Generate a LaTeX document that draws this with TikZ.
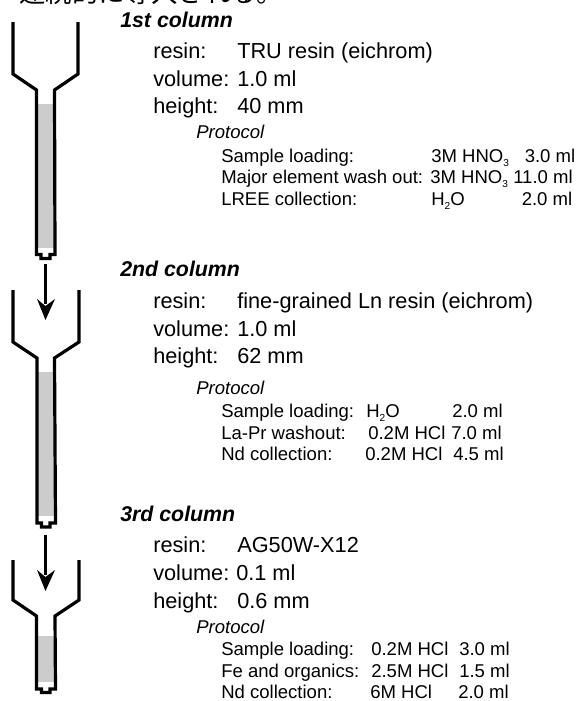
\documentclass[tikz,border=0pt]{standalone}
\usepackage{fontspec}
\setmainfont{Liberation Sans}
\newfontfamily\jpfont{Noto Sans CJK JP}
\def\walledge{2.4}
\definecolor{wallblack}{rgb}{0,0,0}
\definecolor{resingrey}{rgb}{0.8,0.8,0.8}
\newcommand{\lowsub}[1]{\raisebox{-3pt}{\fontsize{7.6}{8}\selectfont #1}}
\tikzset{
  heading/.style={anchor=base west,inner sep=0pt,font=\fontsize{16}{18}\selectfont\bfseries\itshape},
  info/.style={anchor=base west,inner sep=0pt,font=\fontsize{16.3}{18}\selectfont},
  protohead/.style={anchor=base west,inner sep=0pt,font=\fontsize{13.9}{15}\selectfont\itshape},
  proto/.style={anchor=base west,inner sep=0pt,font=\fontsize{13.9}{15}\selectfont},
  wall/.style={line width=\walledge,color=wallblack,miter limit=4},
  flow/.style={line width=\walledge,color=wallblack}
}
\begin{document}
\begin{tikzpicture}[x = 0.75pt, y = -0.75pt, scale = 1]
            \useasboundingbox (0,0) rectangle (577,701);
            \clip (0,0) rectangle (577,701);

            % caption cut off by the page edge
            \node[anchor=base west,inner sep=0pt,font=\fontsize{19.8}{20}\selectfont\jpfont] (caption) at (19,2){連続的に導入される。};

            % first column
            \fill [color=resingrey] (37,104) rectangle (54,248);
            \draw [wall] (13,22) -- (13,74) -- (36.5,90) -- (36.5,254.5) -- (41,254.5) -- (41,258.5) -- (50,258.5) -- (50,254.5) -- (55,254.5) -- (54.5,90) -- (78,74) -- (78,22);

            \coordinate (outa) at (45.5,264);
            \coordinate (ina) at (45.5,320);
            \draw [flow] (outa) -- (45.5,304);
            \fill [color=wallblack] (ina) -- (37,299) -- (45.5,306) -- (55,299) -- cycle;

            % second column
            \fill [color=resingrey] (38,372) rectangle (54,516);
            \draw [wall] (13,290) -- (13,342) -- (37,358) -- (37,523) -- (41.5,523) -- (41.5,527) -- (50,527) -- (50,523) -- (55.5,523) -- (54.5,358) -- (79,342) -- (79,290);

            \coordinate (outb) at (45.5,535);
            \coordinate (inb) at (45.5,591);
            \draw [flow] (outb) -- (45.5,575);
            \fill [color=wallblack] (inb) -- (37,570) -- (45.5,577) -- (55,570) -- cycle;

            % third column
            \fill [color=resingrey] (38,636) rectangle (54,682);
            \draw [wall] (13,560) -- (13,600) -- (36.5,616) -- (36.5,689) -- (41.5,689) -- (41.5,692.5) -- (50,692.5) -- (50,689) -- (55.5,689) -- (55,616) -- (79,600) -- (79,560);

            % labels of the first column
            \node[heading] (heada) at (120,27){1st column};
            \node[info] (resina) at (153,58){resin:};
            \node[info] (resinvala) at (237,58){TRU resin (eichrom)};
            \node[info] (vola) at (153,86){volume:};
            \node[info] (volvala) at (237,86){1.0 ml};
            \node[info] (heighta) at (153,113){height:};
            \node[info] (heightvala) at (237,113){40 mm};
            \node[protohead] (protoa) at (196,138){Protocol};
            \node[proto] (a1) at (221,162){Sample loading:};
            \node[proto] (a2) at (431,162){3M HNO\lowsub{3}};
            \node[proto] (a3) at (524.5,162){3.0 ml};
            \node[proto] (a4) at (221,183){Major element wash out:};
            \node[proto] (a5) at (430,183){3M HNO\lowsub{3}};
            \node[proto] (a6) at (513,183){11.0 ml};
            \node[proto] (a7) at (221,205){LREE collection:};
            \node[proto] (a8) at (431,205){H\lowsub{2}O};
            \node[proto] (a9) at (521.5,205){2.0 ml};

            % labels of the second column
            \node[heading] (headb) at (120,276){2nd column};
            \node[info] (resinb) at (153,308){resin:};
            \node[info] (resinvalb) at (237,308){fine-grained Ln resin (eichrom)};
            \node[info] (volb) at (153,336){volume:};
            \node[info] (volvalb) at (237,336){1.0 ml};
            \node[info] (heightb) at (153,363){height:};
            \node[info] (heightvalb) at (237,363){62 mm};
            \node[protohead] (protob) at (196,394){Protocol};
            \node[proto] (b1) at (221,417){Sample loading:};
            \node[proto] (b2) at (366,417){H\lowsub{2}O};
            \node[proto] (b3) at (452,417){2.0 ml};
            \node[proto] (b4) at (221,439){La-Pr washout:};
            \node[proto] (b5) at (368,439){0.2M HCl};
            \node[proto] (b6) at (451,439){7.0 ml};
            \node[proto] (b7) at (221,460){Nd collection:};
            \node[proto] (b8) at (365,460){0.2M HCl};
            \node[proto] (b9) at (453,460){4.5 ml};

            % labels of the third column
            \node[heading] (headc) at (120,521){3rd column};
            \node[info] (resinc) at (153,552){resin:};
            \node[info] (resinvalc) at (237,552){AG50W-X12};
            \node[info] (volc) at (153,580){volume:};
            \node[info] (volvalc) at (236,580){0.1 ml};
            \node[info] (heightc) at (153,608){height:};
            \node[info] (heightvalc) at (237,608){0.6 mm};
            \node[protohead] (protoc) at (196,633){Protocol};
            \node[proto] (c1) at (221,655){Sample loading:};
            \node[proto] (c2) at (371,655){0.2M HCl};
            \node[proto] (c3) at (459,655){3.0 ml};
            \node[proto] (c4) at (221,677){Fe and organics:};
            \node[proto] (c5) at (371,677){2.5M HCl};
            \node[proto] (c6) at (459,677){1.5 ml};
            \node[proto] (c7) at (221,698){Nd collection:};
            \node[proto] (c8) at (370,698){6M HCl};
            \node[proto] (c9) at (458,698){2.0 ml};
\end{tikzpicture}
\end{document}
